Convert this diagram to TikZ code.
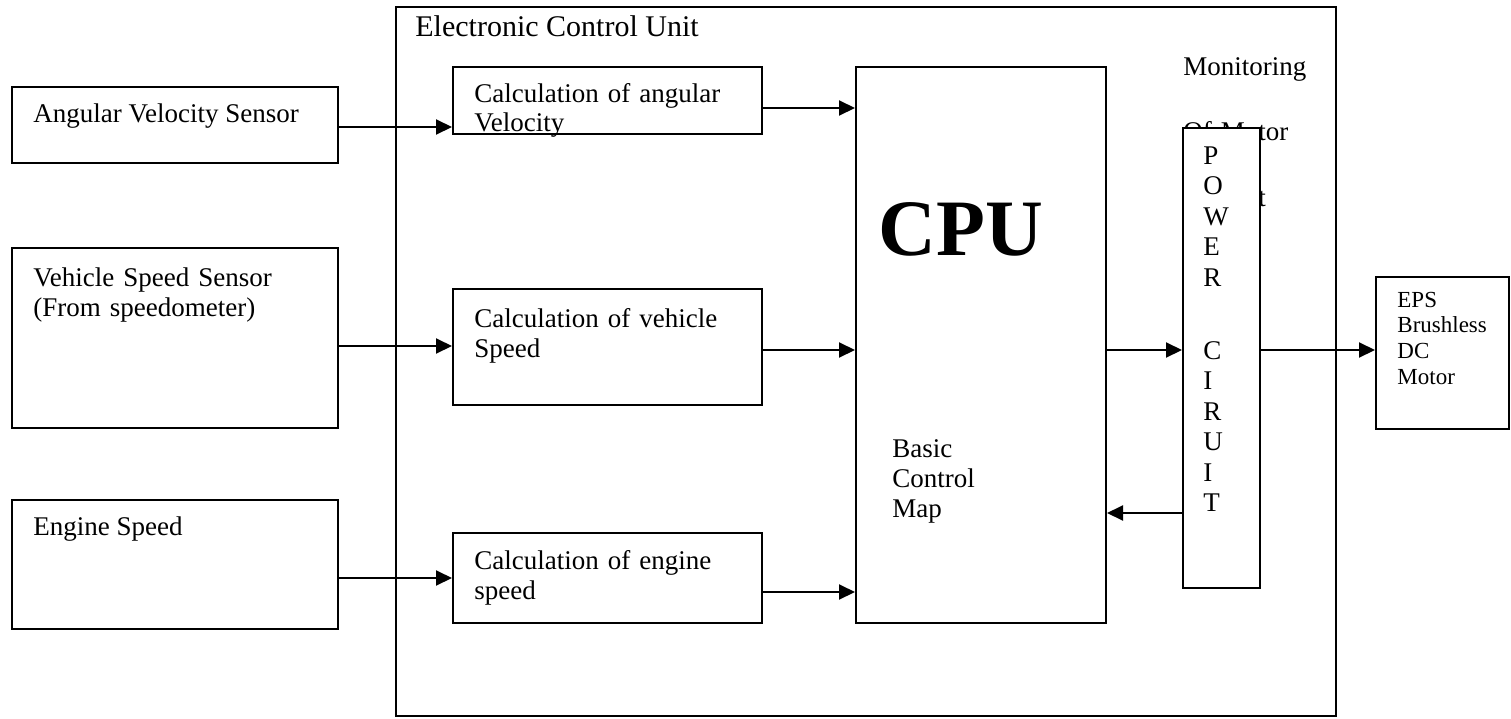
\documentclass[tikz,border=0pt]{standalone}
\usepackage{fontspec}
\setmainfont{Liberation Serif}
\usetikzlibrary{arrows.meta,fit}
\begin{document}
\begin{tikzpicture}[x=0.5pt,y=-0.5pt,
  blk/.style={draw, line width=1pt, inner sep=0pt},
  wblk/.style={blk, fill=white},
  txt/.style={inner sep=0pt, font=\fontsize{13.5}{15}\selectfont, anchor=base west},
  mtxt/.style={txt, text width=150pt, align=left},
  arr/.style={line width=1pt, -{Triangle[length=8pt,width=7.5pt]}}]
\useasboundingbox (0,0) rectangle (1511,718);

% Electronic control unit frame
\node[blk, fit={(396,7) (1336,716)}] (ecu) {};
\node[txt, font=\fontsize{15}{17}\selectfont] (ecut) at (415,36) {Electronic Control Unit};

% sensors
\node[blk, fit={(12,87) (338,163)}] (angS) {};
\node[txt] (angSt) at (33,122) {Angular Velocity Sensor};
\node[blk, fit={(12,248) (338,428)}] (vehS) {};
\node[mtxt] (vehSt) at (33,286) {Vehicle Speed Sensor\\(From speedometer)};
\node[blk, fit={(12,500) (338,629)}] (engS) {};
\node[txt] (engSt) at (33,535) {Engine Speed};

% calculation blocks
\node[blk, fit={(453,67) (762,134)}] (calcA) {};
\node[mtxt, font=\fontsize{13.5}{14.5}\selectfont] (calcAt) at (474,102) {Calculation of angular\\Velocity};
\node[blk, fit={(453,289) (762,405)}] (calcV) {};
\node[mtxt] (calcVt) at (474,327) {Calculation of vehicle\\Speed};
\node[blk, fit={(453,533) (762,623)}] (calcE) {};
\node[mtxt] (calcEt) at (474,569) {Calculation of engine\\speed};

% CPU
\node[blk, fit={(856,67) (1106,623)}] (cpu) {};
\node[txt, font=\fontsize{40}{48}\selectfont\bfseries] (cput) at (878,255) {CPU};
\node[mtxt] (mapt) at (892,457) {Basic\\Control\\Map};

% monitoring text (partly hidden by the power circuit box)
\node[txt, text width=150pt, align=left, font=\fontsize{13.5}{32.75}\selectfont] (mont) at (1183,75) {Monitoring\\Of Motor\\Current};

% power circuit
\node[wblk, fit={(1183,128) (1260,588)}] (pwr) {};
\node[txt, text width=20pt, align=left, font=\fontsize{13.5}{15.25}\selectfont] (pwrt) at (1203,164) {P\\O\\W\\E\\R\\[21.25pt]C\\I\\R\\U\\I\\T};

% motor
\node[blk, fit={(1376,277) (1509,429)}] (eps) {};
\node[txt, text width=60pt, align=left, font=\fontsize{11.5}{12.85}\selectfont] (epst) at (1397,307) {EPS\\Brushless\\DC\\Motor};

% connectors
\draw[arr] (angS.east |- 0,127) -- (calcA.west |- 0,127);
\draw[arr] (vehS.east |- 0,346) -- (calcV.west |- 0,346);
\draw[arr] (engS.east |- 0,578) -- (calcE.west |- 0,578);
\draw[arr] (calcA.east |- 0,108) -- (cpu.west |- 0,108);
\draw[arr] (calcV.east |- 0,350) -- (cpu.west |- 0,350);
\draw[arr] (calcE.east |- 0,592) -- (cpu.west |- 0,592);
\draw[arr] (cpu.east |- 0,350) -- (pwr.west |- 0,350);
\draw[arr] (pwr.east |- 0,350) -- (eps.west |- 0,350);
\draw[arr] (pwr.west |- 0,513) -- (cpu.east |- 0,513);
\end{tikzpicture}
\end{document}
